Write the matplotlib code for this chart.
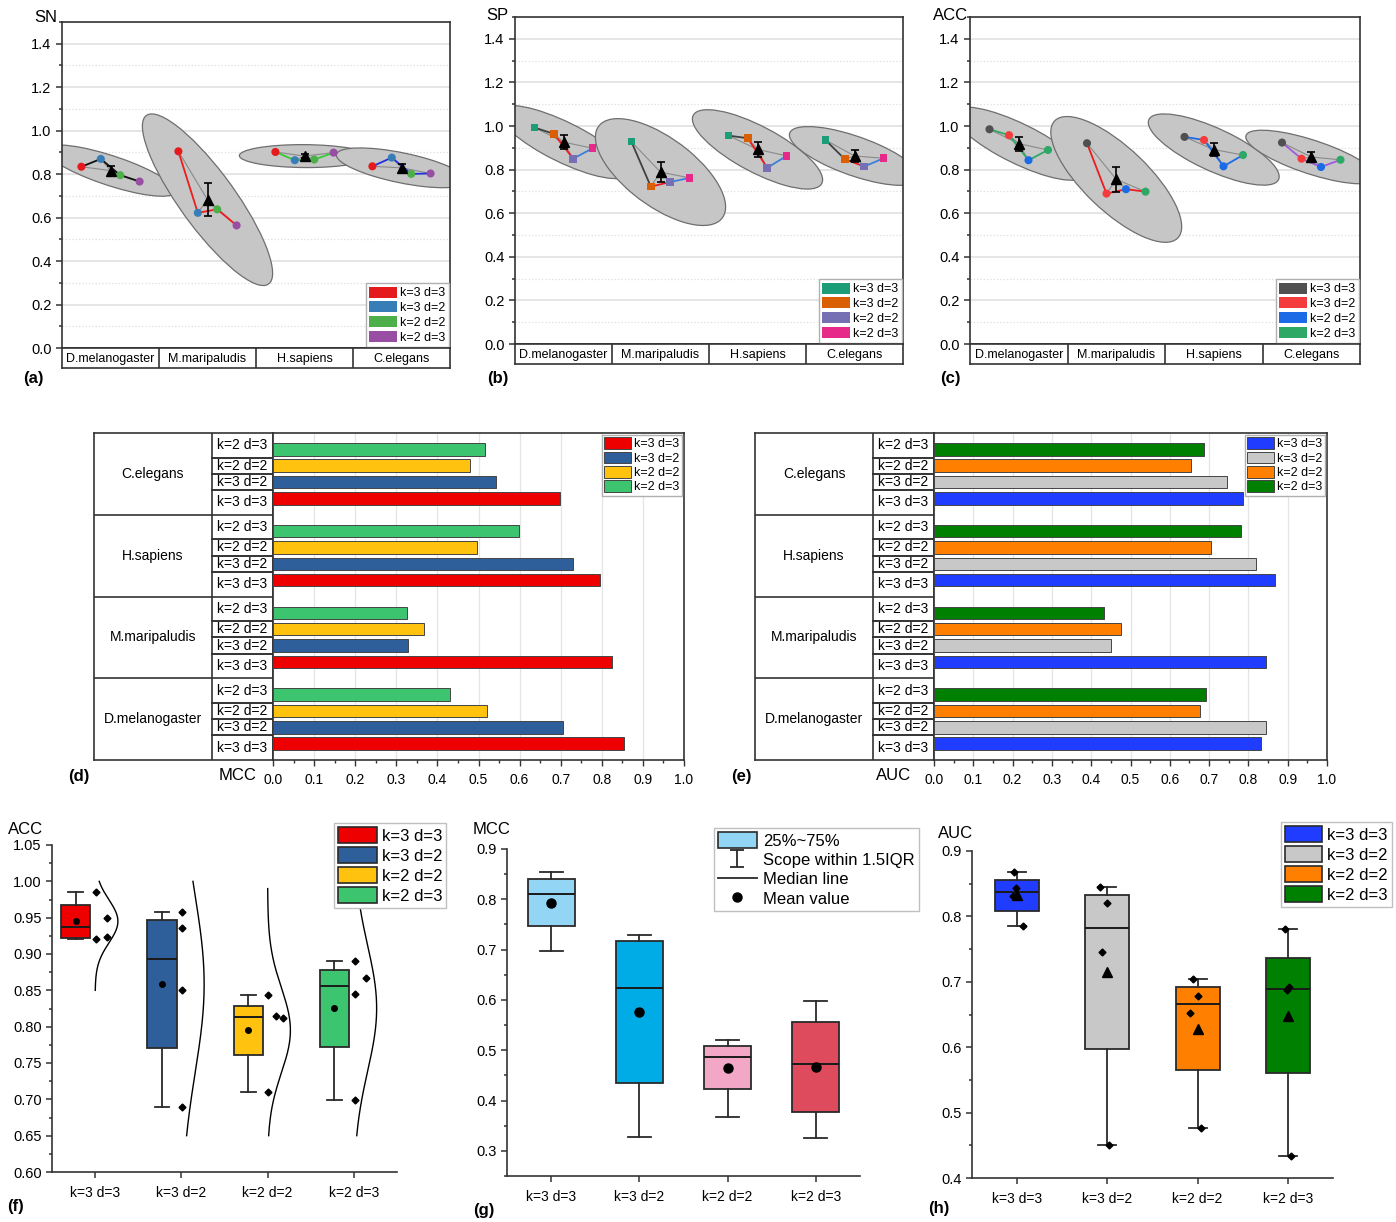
import numpy as np
import matplotlib
matplotlib.use("Agg")
import matplotlib.pyplot as plt
import matplotlib.transforms as transforms
from matplotlib.patches import Ellipse, Patch
from matplotlib.lines import Line2D
from matplotlib.ticker import MultipleLocator, FormatStrFormatter

plt.rcParams['font.family'] = ['Liberation Sans', 'DejaVu Sans']

FIG_W, FIG_H = 1396, 1222

SPECIES = ['D.melanogaster', 'M.maripaludis', 'H.sapiens', 'C.elegans']
CONFIGS = ['k=3 d=3', 'k=3 d=2', 'k=2 d=2', 'k=2 d=3']

# one row per species, columns follow CONFIGS
SN = [[0.834, 0.870, 0.795, 0.766],
      [0.905, 0.622, 0.638, 0.564],
      [0.902, 0.864, 0.867, 0.899],
      [0.836, 0.876, 0.801, 0.803]]
SP = [[0.993, 0.964, 0.850, 0.898],
      [0.928, 0.722, 0.743, 0.762],
      [0.956, 0.944, 0.808, 0.863],
      [0.936, 0.848, 0.814, 0.852]]
ACC = [[0.985, 0.958, 0.843, 0.890],
       [0.921, 0.690, 0.710, 0.699],
       [0.950, 0.936, 0.815, 0.867],
       [0.924, 0.850, 0.812, 0.845]]
MCC = [[0.854, 0.706, 0.520, 0.430],
       [0.826, 0.328, 0.367, 0.325],
       [0.796, 0.730, 0.496, 0.598],
       [0.698, 0.542, 0.479, 0.516]]
AUC = [[0.831, 0.845, 0.678, 0.692],
       [0.844, 0.450, 0.476, 0.433],
       [0.868, 0.820, 0.705, 0.780],
       [0.786, 0.745, 0.653, 0.687]]

# colours
SN_COLORS = ['#e41a1c', '#377eb8', '#4daf4a', '#984ea3']
SP_COLORS = ['#1b9e77', '#d95f02', '#7570b3', '#e7298a']
ACC_COLORS = ['#505050', '#f53c3c', '#1c6be6', '#2ea865']
SN_SEG = [['#111111'] * 3, ['#ee1c1c'] * 3, ['#33cc33'] * 3, ['#2030e0'] * 3]
SP_SEG = [['#404040', '#ee1c1c', '#3a7fdc']] * 4
ACC_SEG = [['#2ea865'] * 3, ['#ee1c1c'] * 3, ['#1c6be6'] * 3, ['#a05ad8'] * 3]
MCC_COLORS = ['#ee0000', '#2f5f9a', '#ffc20e', '#3cc46e']
AUC_COLORS = ['#1f3cff', '#c8c8c8', '#ff8000', '#008000']
MCC_BOX_COLORS = ['#92d5f5', '#00ace6', '#f3a7c6', '#dd4b5c']

# distribution curve extents (f) and dot offsets next to the boxes
F_CURVE_LO = [0.85, 0.65, 0.65, 0.65]
F_CURVE_HI = [1.00, 1.00, 0.99, 1.00]
F_DOT_DX = [[0.01, 0.01, 0.14, 0.14],
            [0.01, 0.01, 0.01, 0.01],
            [0.01, 0.01, 0.10, 0.18],
            [0.01, 0.01, 0.14, 0.01]]
H_DOT_DX = [[-0.048, -0.011, -0.037, 0.066],
            [-0.077, 0.015, -0.007, -0.059],
            [0.007, 0.037, -0.055, -0.085],
            [0.018, 0.030, -0.033, -0.007]]

N_STD = 2.6
SPINE = '#333333'

fig = plt.figure(figsize=(FIG_W / 100, FIG_H / 100), dpi=100)


def box(x0, y0, x1, y1):
    return [x0 / FIG_W, 1 - y1 / FIG_H, (x1 - x0) / FIG_W, (y1 - y0) / FIG_H]


def label(x, y, s, **kw):
    fig.text(x / FIG_W, 1 - y / FIG_H, s, **kw)


def style_spines(ax, lw=1.2):
    for s in ax.spines.values():
        s.set_linewidth(lw)
        s.set_color(SPINE)


#####################
## ELLIPSE PANELS  ##
#####################


def ellipse_panel(px, values, colors, seg_colors, marker, size):
    x0, y0, x1, y1, y2 = px
    ax = fig.add_axes(box(x0, y0, x1, y1))
    ax.set_xlim(0, 4)
    ax.set_ylim(0, 1.5)
    ax.set_xticks([])
    ax.yaxis.set_major_locator(MultipleLocator(0.2))
    ax.yaxis.set_minor_locator(MultipleLocator(0.1))
    ax.yaxis.set_major_formatter(FormatStrFormatter('%.1f'))
    ax.tick_params(axis='y', which='major', length=4, width=1.1, labelsize=10.5, color=SPINE)
    ax.tick_params(axis='y', which='minor', length=2.5, width=1.1, color=SPINE)
    ax.grid(axis='y', which='major', color='#dedede', lw=1.1)
    ax.grid(axis='y', which='minor', color='#dedede', lw=0.9, ls=':')
    ax.set_axisbelow(True)
    style_spines(ax)

    offs = np.array([0.2, 0.4, 0.6, 0.8])
    for g, vals in enumerate(values):
        x = g + offs
        y = np.asarray(vals)
        cov = np.cov(x, y)
        r = cov[0, 1] / np.sqrt(cov[0, 0] * cov[1, 1])
        ell = Ellipse((0, 0), 2 * np.sqrt(1 + r), 2 * np.sqrt(1 - r),
                      fc='#c6c6c6', ec='#6e6e6e', lw=0.9, zorder=1)
        tr = (transforms.Affine2D().rotate_deg(45)
              .scale(N_STD * np.sqrt(cov[0, 0]), N_STD * np.sqrt(cov[1, 1]))
              .translate(x.mean(), y.mean()))
        ell.set_transform(tr + ax.transData)
        ax.add_patch(ell)

    for g, vals in enumerate(values):
        x = g + offs
        y = np.asarray(vals)
        mx, my = g + 0.5, y.mean()
        se = y.std(ddof=1) / np.sqrt(len(y))
        for xi, yi in zip(x, y):
            ax.plot([mx, xi], [my, yi], color='#8a8a8a', lw=0.8, zorder=2)
        for k in range(3):
            ax.plot(x[k:k + 2], y[k:k + 2], color=seg_colors[g][k], lw=1.3, zorder=3)
        ax.scatter(x, y, c=colors, marker=marker, s=size, edgecolors='none', zorder=4)
        ax.errorbar(mx, my, yerr=se, fmt='^', color='k', ms=7, capsize=3,
                    elinewidth=1.2, capthick=1.2, zorder=5)

    handles = [Patch(fc=c, ec='none') for c in colors]
    ax.legend(handles, CONFIGS, loc='lower right', fontsize=9, handlelength=2.2,
              handleheight=1.0, labelspacing=0.15, borderpad=0.25, handletextpad=0.3,
              borderaxespad=0.1, fancybox=False, edgecolor='#b0b0b0', framealpha=1)

    st = fig.add_axes(box(x0, y1, x1, y2))
    st.set_xlim(0, 4)
    st.set_ylim(0, 1)
    st.set_xticks([])
    st.set_yticks([])
    style_spines(st)
    for v in (1, 2, 3):
        st.axvline(v, color=SPINE, lw=1.2)
    for g, name in enumerate(SPECIES):
        st.text(g + 0.5, 0.45, name, ha='center', va='center', fontsize=9)
    return ax


ellipse_panel((62, 22, 450, 348, 368), SN, SN_COLORS, SN_SEG, 'o', 34)
ellipse_panel((515, 17, 903, 344, 364), SP, SP_COLORS, SP_SEG, 's', 30)
ellipse_panel((970, 17, 1360, 344, 364), ACC, ACC_COLORS, ACC_SEG, 'o', 34)

label(57, 18, 'SN', ha='right', va='center', fontsize=12)
label(508, 16, 'SP', ha='right', va='center', fontsize=12)
label(968, 15, 'ACC', ha='right', va='center', fontsize=12)
label(23, 379, '(a)', ha='left', va='center', fontsize=12, fontweight='bold')
label(487, 379, '(b)', ha='left', va='center', fontsize=12, fontweight='bold')
label(940, 379, '(c)', ha='left', va='center', fontsize=12, fontweight='bold')


#################
## BAR PANELS  ##
#################


def bar_panel(x0, xs, xb, x1, y0, y1, values, colors):
    tab = fig.add_axes(box(x0, y0, xb, y1))
    bars = fig.add_axes(box(xb, y0, x1, y1))
    split = (xs - x0) / (xb - x0)

    for a in (tab, bars):
        a.set_ylim(-1, 19)
        style_spines(a)
    tab.set_xlim(0, 1)
    tab.set_xticks([])
    tab.set_yticks([])
    tab.axvline(split, color=SPINE, lw=1.2)
    for g in range(4):
        base = g * 5
        if g > 0:
            tab.axhline(base - 1, color=SPINE, lw=1.2)
        for i in range(3):
            tab.plot([split, 1], [base + i + 0.5] * 2, color=SPINE, lw=1.4)
        tab.text(split / 2, base + 1.5, SPECIES[g], ha='center', va='center', fontsize=10)
        centers = [base - 0.25, base + 1, base + 2, base + 3.25]
        for i, cy in enumerate(centers):
            tab.text((split + 1) / 2, cy, CONFIGS[i], ha='center', va='center', fontsize=10)

    for i, c in enumerate(colors):
        ys = [g * 5 + i for g in range(4)]
        xs_ = [values[g][i] for g in range(4)]
        bars.barh(ys, xs_, height=0.76, color=c, edgecolor='#454545', lw=0.7, zorder=3)

    bars.set_xlim(0, 1)
    bars.set_yticks([])
    bars.xaxis.set_major_locator(MultipleLocator(0.1))
    bars.xaxis.set_minor_locator(MultipleLocator(0.05))
    bars.xaxis.set_major_formatter(FormatStrFormatter('%.1f'))
    bars.tick_params(axis='x', which='major', length=4, width=1, labelsize=10, pad=5, color=SPINE)
    bars.tick_params(axis='x', which='minor', length=2, width=1, color=SPINE)
    bars.grid(axis='x', which='major', color='#e4e4e4', lw=0.9)
    bars.set_axisbelow(True)

    handles = [Patch(fc=c, ec='#454545', lw=0.7) for c in colors]
    bars.legend(handles, CONFIGS, loc='upper right', fontsize=9, handlelength=2.1,
                handleheight=1.05, labelspacing=0.1, borderpad=0.2, handletextpad=0.3,
                borderaxespad=0.15, fancybox=False, edgecolor='#b0b0b0', framealpha=1)
    return bars


bar_panel(94, 212, 273, 684, 433, 760, MCC, MCC_COLORS)
bar_panel(755, 873, 934, 1327, 433, 760, AUC, AUC_COLORS)

label(256, 776, 'MCC', ha='right', va='center', fontsize=12)
label(911, 776, 'AUC', ha='right', va='center', fontsize=12)
label(68, 776, '(d)', ha='left', va='center', fontsize=12, fontweight='bold')
label(731, 776, '(e)', ha='left', va='center', fontsize=12, fontweight='bold')


#################
## BOX PANELS  ##
#################


def box_stats(vals):
    v = np.sort(np.asarray(vals))
    q1, med, q3 = np.percentile(v, [25, 50, 75], method='midpoint')
    iqr = q3 - q1
    return dict(med=med, q1=q1, q3=q3,
                whislo=v[v >= q1 - 1.5 * iqr].min(),
                whishi=v[v <= q3 + 1.5 * iqr].max(),
                mean=v.mean(), fliers=[])


def box_axes(x0, y0, x1, y1, ylim, major, minor, fmt):
    ax = fig.add_axes(box(x0, y0, x1, y1))
    ax.set_xlim(0.5, 4.5)
    ax.set_ylim(*ylim)
    ax.spines[['top', 'right']].set_visible(False)
    style_spines(ax)
    ax.yaxis.set_major_locator(MultipleLocator(major))
    ax.yaxis.set_minor_locator(MultipleLocator(minor))
    ax.yaxis.set_major_formatter(FormatStrFormatter(fmt))
    ax.set_xticks([1, 2, 3, 4])
    ax.set_xticklabels(CONFIGS)
    ax.tick_params(axis='both', which='major', length=4, width=1.1, labelsize=10.5, color=SPINE)
    ax.tick_params(axis='x', labelsize=10, pad=6)
    ax.tick_params(axis='y', which='minor', length=2.5, width=1.1, color=SPINE)
    return ax


def columns(values):
    return [[values[g][i] for g in range(4)] for i in range(4)]


def draw_boxes(ax, values, colors, shift, width, cap, mean_marker, mean_size):
    stats = [box_stats(v) for v in columns(values)]
    pos = np.arange(1, 5) + shift
    res = ax.bxp(stats, positions=pos, widths=width, capwidths=cap, patch_artist=True,
                 showmeans=True, showfliers=False, manage_ticks=False,
                 boxprops=dict(edgecolor='#2a2a2a', linewidth=1.3),
                 medianprops=dict(color='#1a1a1a', linewidth=1.4),
                 whiskerprops=dict(color='#2a2a2a', linewidth=1.3),
                 capprops=dict(color='#2a2a2a', linewidth=1.3),
                 meanprops=dict(marker=mean_marker, mfc='k', mec='k', ms=mean_size))
    for patch, c in zip(res['boxes'], colors):
        patch.set_facecolor(c)
    return res


LEGEND_STYLE = dict(loc='upper left', bbox_transform=fig.transFigure, borderaxespad=0,
                    fancybox=False, edgecolor='#c0c0c0', framealpha=1, borderpad=0.25)

# (f) ACC: half boxes, raw points and fitted normal curves
ax_f = box_axes(52, 845, 397, 1172, (0.6, 1.05), 0.05, 0.025, '%.2f')
draw_boxes(ax_f, ACC, MCC_COLORS, -0.225, 0.34, 0.17, 'o', 4)
for i, col in enumerate(columns(ACC)):
    v = np.asarray(col)
    ax_f.plot(i + 1 + np.asarray(F_DOT_DX[i]), v, 'D', color='k', ms=3.5, zorder=4)
    yy = np.linspace(F_CURVE_LO[i], F_CURVE_HI[i], 200)
    z = (yy - v.mean()) / v.std(ddof=1)
    ax_f.plot(i + 1 + 0.264 * np.exp(-0.5 * z ** 2), yy, color='k', lw=1.0, zorder=3)
ax_f.legend([Patch(fc=c, ec='#2a2a2a', lw=1.2) for c in MCC_COLORS], CONFIGS,
            bbox_to_anchor=(334 / FIG_W, 1 - 823 / FIG_H), fontsize=12,
            handlelength=2.3, handleheight=1.05, labelspacing=0.22, handletextpad=0.3,
            **LEGEND_STYLE)

# (g) MCC
ax_g = box_axes(507, 849, 860, 1176, (0.25, 0.9), 0.1, 0.05, '%.1f')
draw_boxes(ax_g, MCC, MCC_BOX_COLORS, 0.0, 0.53, 0.26, 'o', 6.5)
eb = ax_g.errorbar([np.nan], [np.nan], yerr=[0.1], fmt='none', ecolor='#2a2a2a',
                   elinewidth=1.3, capsize=5, capthick=1.3)
g_handles = [Patch(fc=MCC_BOX_COLORS[0], ec='#2a2a2a', lw=1.2), eb,
             Line2D([], [], color='#2a2a2a', lw=1.3),
             Line2D([], [], ls='none', marker='o', color='k', ms=6.5)]
ax_g.legend(g_handles, ['25%~75%', 'Scope within 1.5IQR', 'Median line', 'Mean value'],
            bbox_to_anchor=(714 / FIG_W, 1 - 828 / FIG_H), fontsize=12,
            handlelength=2.3, handleheight=1.05, labelspacing=0.18, handletextpad=0.4,
            **LEGEND_STYLE)

# (h) AUC
ax_h = box_axes(972, 851, 1333, 1178, (0.4, 0.9), 0.1, 0.05, '%.1f')
draw_boxes(ax_h, AUC, AUC_COLORS, 0.0, 0.49, 0.2, '^', 7)
for i, col in enumerate(columns(AUC)):
    ax_h.plot(i + 1 + np.asarray(H_DOT_DX[i]), col, 'D', color='k', ms=3.5, zorder=4)
ax_h.legend([Patch(fc=c, ec='#2a2a2a', lw=1.2) for c in AUC_COLORS], CONFIGS,
            bbox_to_anchor=(1281 / FIG_W, 1 - 822 / FIG_H), fontsize=12,
            handlelength=2.2, handleheight=1.05, labelspacing=0.22, handletextpad=0.3,
            **LEGEND_STYLE)

label(43, 830, 'ACC', ha='right', va='center', fontsize=12)
label(511, 830, 'MCC', ha='right', va='center', fontsize=12)
label(973, 833, 'AUC', ha='right', va='center', fontsize=12)
label(7, 1207, '(f)', ha='left', va='center', fontsize=12, fontweight='bold')
label(473, 1211, '(g)', ha='left', va='center', fontsize=12, fontweight='bold')
label(928, 1209, '(h)', ha='left', va='center', fontsize=12, fontweight='bold')

fig.savefig('out.png', dpi=100)
